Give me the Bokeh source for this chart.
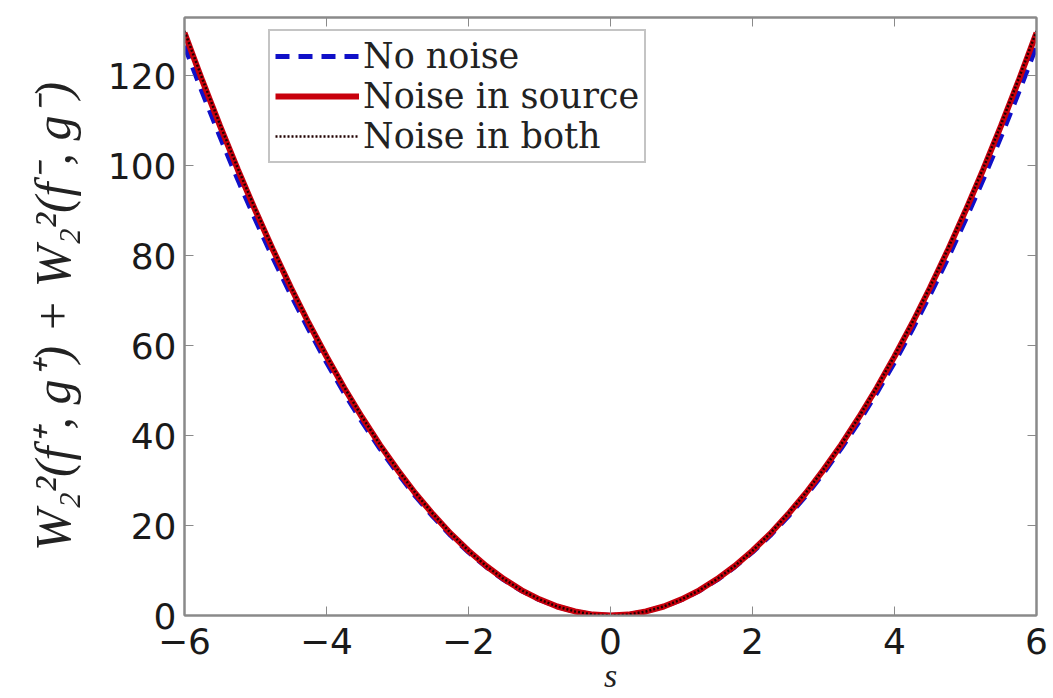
from bokeh.plotting import figure
from bokeh.models import LinearAxis, Range1d, FixedTicker, Legend, LegendItem
from bokeh.embed import file_html
from bokeh.resources import INLINE

# Data
s_vals = [-6.0, -5.75, -5.5, -5.25, -5.0, -4.75, -4.5, -4.25, -4.0, -3.75, -3.5, -3.25,
          -3.0, -2.75, -2.5, -2.25, -2.0, -1.75, -1.5, -1.25, -1.0, -0.75, -0.5, -0.25,
          0.0, 0.25, 0.5, 0.75, 1.0, 1.25, 1.5, 1.75, 2.0, 2.25, 2.5, 2.75, 3.0, 3.25,
          3.5, 3.75, 4.0, 4.25, 4.5, 4.75, 5.0, 5.25, 5.5, 5.75, 6.0]
no_noise = [126.7, 116.4, 106.5, 97.0, 88.0, 79.4, 71.3, 63.6, 56.3, 49.5, 43.1, 37.2,
            31.7, 26.6, 22.0, 17.8, 14.1, 10.8, 7.9, 5.5, 3.5, 2.0, 0.9, 0.2,
            0.0, 0.2, 0.9, 2.0, 3.5, 5.5, 7.9, 10.8, 14.1, 17.8, 22.0, 26.6, 31.7, 37.2,
            43.1, 49.5, 56.3, 63.6, 71.3, 79.4, 88.0, 97.0, 106.5, 116.4, 126.7]
noise_source = [129.6, 119.0, 108.9, 99.2, 90.0, 81.2, 72.9, 65.0, 57.6, 50.6, 44.1, 38.0,
                32.4, 27.2, 22.5, 18.2, 14.4, 11.0, 8.1, 5.6, 3.6, 2.0, 0.9, 0.2,
                0.0, 0.2, 0.9, 2.0, 3.6, 5.6, 8.1, 11.0, 14.4, 18.2, 22.5, 27.2, 32.4, 38.0,
                44.1, 50.6, 57.6, 65.0, 72.9, 81.2, 90.0, 99.2, 108.9, 119.0, 129.6]
noise_both = [130.0, 119.4, 109.2, 99.5, 90.3, 81.5, 73.1, 65.2, 57.8, 50.8, 44.2, 38.1,
              32.5, 27.3, 22.6, 18.3, 14.4, 11.0, 8.1, 5.6, 3.6, 2.0, 0.9, 0.2,
              0.0, 0.2, 0.9, 2.0, 3.6, 5.6, 8.1, 11.0, 14.4, 18.3, 22.6, 27.3, 32.5, 38.1,
              44.2, 50.8, 57.8, 65.2, 73.1, 81.5, 90.3, 99.5, 109.2, 119.4, 130.0]
x_ticks = [-6, -4, -2, 0, 2, 4, 6]
y_ticks = [0, 20, 40, 60, 80, 100, 120]

p = figure(width=1053, height=698, output_backend="svg", toolbar_location=None,
           x_range=Range1d(-6, 6), y_range=Range1d(0, 133),
           min_border_left=184, min_border_right=17, min_border_top=17,
           min_border_bottom=83, background_fill_color="white",
           border_fill_color="white")
p.grid.visible = False
p.outline_line_color = "#8a8a8a"
p.outline_line_width = 2

tick_font = "DejaVu Sans"
for ax in (p.xaxis[0], p.yaxis[0]):
    ax.major_tick_in = 9
    ax.major_tick_out = 0
    ax.minor_tick_line_color = None
    ax.axis_line_color = "#8a8a8a"
    ax.axis_line_width = 2
    ax.major_tick_line_color = "#8a8a8a"
    ax.major_label_text_font = tick_font
    ax.major_label_text_font_size = "36px"
    ax.major_label_text_color = "#1a1a1a"

p.xaxis[0].ticker = FixedTicker(ticks=x_ticks)
p.yaxis[0].ticker = FixedTicker(ticks=y_ticks)
p.xaxis[0].major_label_overrides = {t: ("\u2212" + str(-t) if t < 0 else str(t)) for t in x_ticks}
p.xaxis[0].major_label_standoff = 12
p.yaxis[0].major_label_standoff = 8

p.xaxis[0].axis_label = "s"
p.xaxis[0].axis_label_text_font = "Liberation Serif"
p.xaxis[0].axis_label_text_font_style = "italic"
p.xaxis[0].axis_label_text_font_size = "34px"
p.xaxis[0].axis_label_standoff = 0
p.xaxis[0].axis_label_text_color = "#222222"

p.yaxis[0].axis_label = "W\u2082\u00b2(f\u207a, g\u207a) + W\u2082\u00b2(f\u207b, g\u207b)"
p.yaxis[0].axis_label_text_font = "Liberation Serif"
p.yaxis[0].axis_label_text_font_style = "italic"
p.yaxis[0].axis_label_text_font_size = "50px"
p.yaxis[0].axis_label_standoff = 24
p.yaxis[0].axis_label_text_color = "#222222"

# mirrored ticks on top and right (MATLAB box style)
top_ax = LinearAxis(ticker=FixedTicker(ticks=x_ticks))
right_ax = LinearAxis(ticker=FixedTicker(ticks=y_ticks))
for ax in (top_ax, right_ax):
    ax.major_tick_in = 9
    ax.major_tick_out = 0
    ax.minor_tick_line_color = None
    ax.axis_line_color = "#8a8a8a"
    ax.axis_line_width = 2
    ax.major_tick_line_color = "#8a8a8a"
    ax.major_label_text_font_size = "1px"
    ax.major_label_text_color = None
    ax.major_label_standoff = 0
p.add_layout(top_ax, "above")
p.add_layout(right_ax, "right")

r_blue = p.line(s_vals, no_noise, line_color="#1010c8", line_width=5, line_dash="14 9")
r_red = p.line(s_vals, noise_source, line_color="#c8000c", line_width=6)
r_black = p.line(s_vals, noise_both, line_color="#200000", line_width=2.5, line_dash="2 2")

legend = Legend(items=[LegendItem(label="No noise", renderers=[r_blue]),
                       LegendItem(label="Noise in source", renderers=[r_red]),
                       LegendItem(label="Noise in both", renderers=[r_black])],
                location=(84, 452))
legend.label_text_font = "DejaVu Serif"
legend.label_text_font_size = "35px"
legend.label_text_color = "#222222"
legend.glyph_width = 84
legend.glyph_height = 36
legend.label_height = 36
legend.label_standoff = 4
legend.spacing = 0
legend.padding = 5
legend.margin = 0
legend.border_line_color = "#8a8a8a"
legend.border_line_width = 2
legend.background_fill_color = "white"
p.add_layout(legend)

open("out.html", "w").write(file_html(p, INLINE))
